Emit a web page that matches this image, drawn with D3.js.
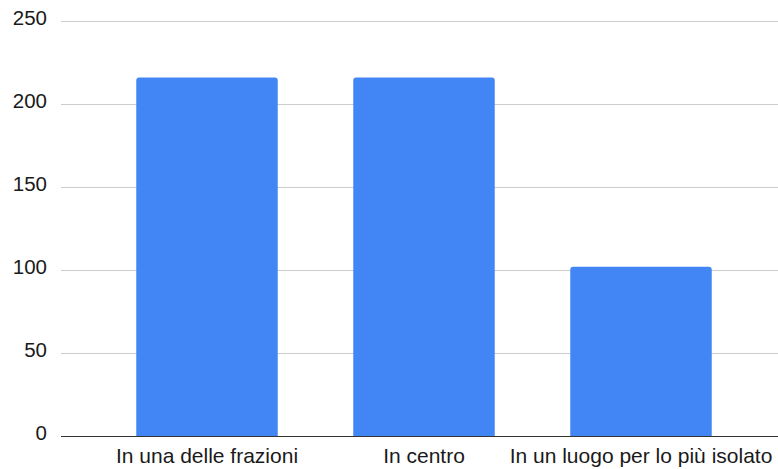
<!DOCTYPE html>
<html><head><meta charset="utf-8">
<script src="https://cdn.jsdelivr.net/npm/d3@7"></script>
<style>body{margin:0;background:#fff}svg{display:block}text{font-family:"Liberation Sans",Arial,sans-serif}</style>
</head><body><svg id="c" width="778" height="469"></svg>
<script>
const categories = ["In una delle frazioni", "In centro", "In un luogo per lo più isolato"];
const values = [216, 216, 102];
const yTicks = [0, 50, 100, 150, 200, 250];

const svg = d3.select("#c");
const gridLeft = 61, gridRight = 778;
const y = d3.scaleLinear().domain([0, 250]).range([436, 21]);
const x = d3.scaleBand().domain(categories).range([98.5, 749.5]).paddingInner(0.348).paddingOuter(0.174);

// gridlines
svg.append("g").selectAll("line").data(yTicks.filter(d => d > 0)).join("line")
  .attr("x1", gridLeft).attr("x2", gridRight)
  .attr("y1", d => Math.round(y(d)) + 0.5).attr("y2", d => Math.round(y(d)) + 0.5)
  .attr("stroke", "#cccccc").attr("stroke-width", 1);

// y labels
svg.append("g").selectAll("text").data(yTicks).join("text")
  .attr("x", 47).attr("y", d => y(d) + 4)
  .attr("text-anchor", "end").attr("font-size", 20.5).attr("fill", "#1a1a1a")
  .text(d => d);

// bars with rounded top corners
const r = 3;
svg.append("g").selectAll("path").data(values).join("path")
  .attr("fill", "#4285f4")
  .attr("d", (d, i) => {
    const x0 = x(categories[i]), w = x.bandwidth(), y0 = y(d), yb = y(0);
    return `M${x0},${yb}V${y0 + r}Q${x0},${y0} ${x0 + r},${y0}H${x0 + w - r}Q${x0 + w},${y0} ${x0 + w},${y0 + r}V${yb}Z`;
  });

// baseline
svg.append("line").attr("x1", gridLeft).attr("x2", gridRight)
  .attr("y1", y(0) + 0.5).attr("y2", y(0) + 0.5)
  .attr("stroke", "#333").attr("stroke-width", 1.2);

// x labels
svg.append("g").selectAll("text").data(categories).join("text")
  .attr("x", d => x(d) + x.bandwidth() / 2).attr("y", 462.5)
  .attr("text-anchor", "middle").attr("font-size", 21).attr("fill", "#1a1a1a")
  .text(d => d);
</script></body></html>
